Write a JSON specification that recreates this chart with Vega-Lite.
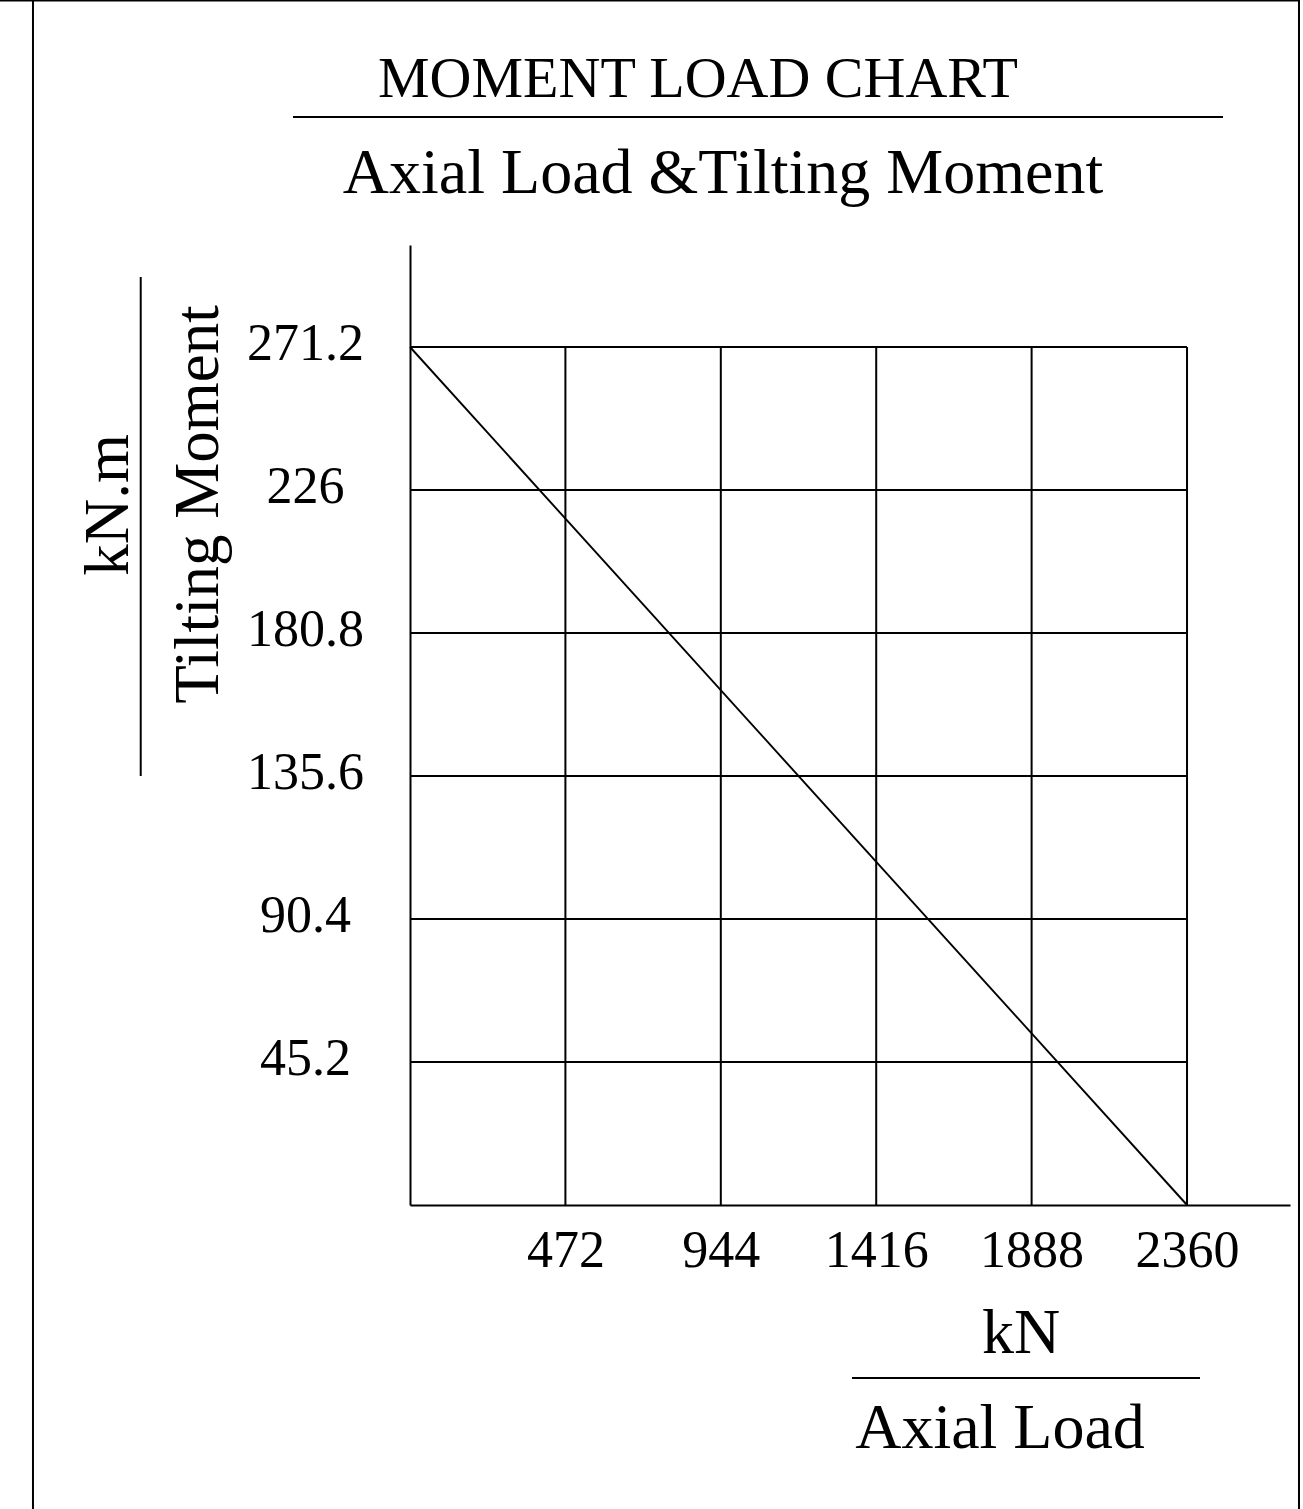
{
  "$schema": "https://vega.github.io/schema/vega-lite/v6.json",
  "autosize": "none",
  "width": 880,
  "height": 960,
  "padding": {"left": 410, "top": 245, "right": 13, "bottom": 304},
  "background": "white",
  "config": {
    "view": {"stroke": null},
    "axis": {"domainColor": "black", "domainWidth": 2, "ticks": false, "tickSize": 0, "grid": false, "labelFont": "Liberation Serif", "labelFontSize": 52, "labelColor": "black", "labelFlush": false, "labelOverlap": false},
    "axisX": {"labelPadding": 45, "labelBaseline": "middle"},
    "axisY": {"labelPadding": 105, "labelAlign": "center", "labelBaseline": "middle", "labelOffset": -3}
  },
  "layer": [
    {
      "data": {"values": [
        {"x": 472, "x2": 472, "y": 0, "y2": 271.2},
        {"x": 944, "x2": 944, "y": 0, "y2": 271.2},
        {"x": 1416, "x2": 1416, "y": 0, "y2": 271.2},
        {"x": 1888, "x2": 1888, "y": 0, "y2": 271.2},
        {"x": 2360, "x2": 2360, "y": 0, "y2": 271.2},
        {"x": 0, "x2": 2360, "y": 45.2, "y2": 45.2},
        {"x": 0, "x2": 2360, "y": 90.4, "y2": 90.4},
        {"x": 0, "x2": 2360, "y": 135.6, "y2": 135.6},
        {"x": 0, "x2": 2360, "y": 180.8, "y2": 180.8},
        {"x": 0, "x2": 2360, "y": 226, "y2": 226},
        {"x": 0, "x2": 2360, "y": 271.2, "y2": 271.2}
      ]},
      "mark": {"type": "rule", "color": "black", "strokeWidth": 2},
      "encoding": {
        "x": {"field": "x", "type": "quantitative", "title": null, "scale": {"domain": [0, 2672.8], "nice": false, "zero": false}, "axis": {"values": [472, 944, 1416, 1888, 2360], "format": "d"}},
        "x2": {"field": "x2"},
        "y": {"field": "y", "type": "quantitative", "title": null, "scale": {"domain": [0, 303.44], "nice": false, "zero": false}, "axis": {"values": [45.2, 90.4, 135.6, 180.8, 226, 271.2], "format": ".1~f"}},
        "y2": {"field": "y2"}
      }
    },
    {
      "data": {"values": [
        {"axial": 0, "moment": 271.2},
        {"axial": 2360, "moment": 0}
      ]},
      "mark": {"type": "line", "color": "black", "strokeWidth": 1.9},
      "encoding": {
        "x": {"field": "axial", "type": "quantitative", "title": null},
        "y": {"field": "moment", "type": "quantitative", "title": null}
      }
    },
    {
      "data": {"values": [
        {"x": -1145.1, "x2": -1145.1, "y": 380.9, "y2": -96.1},
        {"x": 2700.1, "x2": 2700.1, "y": 380.9, "y2": -96.1},
        {"x": -1245.3, "x2": 2700.1, "y": 380.7, "y2": 380.7},
        {"x": -355.4, "x2": 2469.3, "y": 343.9, "y2": 343.9},
        {"x": -817.9, "x2": -817.9, "y": 293.3, "y2": 135.6},
        {"x": 1342.5, "x2": 2399.4, "y": -54.68, "y2": -54.68}
      ]},
      "mark": {"type": "rule", "color": "black", "strokeWidth": 2},
      "encoding": {
        "x": {"field": "x", "type": "quantitative", "title": null},
        "x2": {"field": "x2"},
        "y": {"field": "y", "type": "quantitative", "title": null},
        "y2": {"field": "y2"}
      }
    },
    {
      "data": {"values": [
        {"label": "MOMENT LOAD CHART", "x": 874.7, "y": 350.2}
      ]},
      "mark": {"type": "text", "font": "Liberation Serif", "fontSize": 58, "color": "black", "align": "center", "baseline": "alphabetic"},
      "encoding": {
        "x": {"field": "x", "type": "quantitative", "title": null},
        "y": {"field": "y", "type": "quantitative", "title": null},
        "text": {"field": "label"}
      }
    },
    {
      "data": {"values": [
        {"label": "Axial Load &Tilting Moment", "x": 950.7, "y": 319.9},
        {"label": "kN", "x": 1855.8, "y": -46.78},
        {"label": "Axial Load", "x": 1792, "y": -76.8}
      ]},
      "mark": {"type": "text", "font": "Liberation Serif", "fontSize": 64, "color": "black", "align": "center", "baseline": "alphabetic"},
      "encoding": {
        "x": {"field": "x", "type": "quantitative", "title": null},
        "y": {"field": "y", "type": "quantitative", "title": null},
        "text": {"field": "label"}
      }
    },
    {
      "data": {"values": [
        {"label": "Tilting Moment", "x": -583.2, "y": 221.4},
        {"label": "kN.m", "x": -856.5, "y": 221.3}
      ]},
      "mark": {"type": "text", "font": "Liberation Serif", "fontSize": 63, "color": "black", "align": "center", "baseline": "alphabetic", "angle": 270},
      "encoding": {
        "x": {"field": "x", "type": "quantitative", "title": null},
        "y": {"field": "y", "type": "quantitative", "title": null},
        "text": {"field": "label"}
      }
    }
  ]
}
